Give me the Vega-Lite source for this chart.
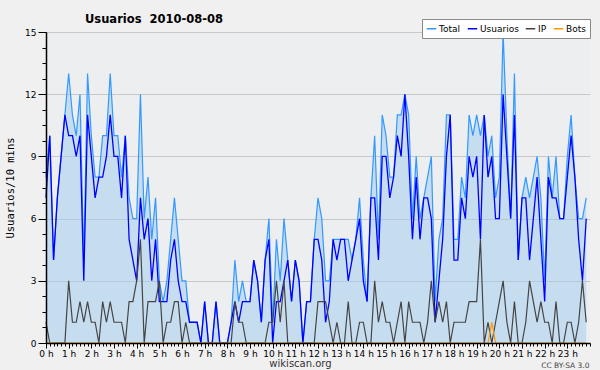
{
  "$schema": "https://vega.github.io/schema/vega-lite/v6.json",
  "autosize": "none",
  "width": 544,
  "height": 311,
  "padding": {"left": 46, "top": 32, "right": 10, "bottom": 27},
  "background": "#f0f0f0",
  "title": {
    "text": "Usuarios\u00a0 2010-08-08",
    "anchor": "start",
    "frame": "group",
    "dx": 39,
    "offset": -16,
    "baseline": "alphabetic",
    "font": "DejaVu Sans",
    "fontSize": 11.5,
    "fontWeight": "bold",
    "color": "#000000"
  },
  "config": {
    "view": {"fill": "#edeef0", "stroke": null},
    "axis": {
      "labelFont": "DejaVu Sans",
      "titleFont": "DejaVu Sans",
      "domainColor": "#000000",
      "tickColor": "#000000",
      "labelColor": "#000000",
      "titleColor": "#000000",
      "titleFontWeight": "normal"
    }
  },
  "data": {
    "values": [
      {"minuto": 0, "total": 8, "usuarios": 7, "ip": 1, "bots": 0},
      {"minuto": 10, "total": 10, "usuarios": 10, "ip": 0, "bots": 0},
      {"minuto": 20, "total": 4, "usuarios": 4, "ip": 0, "bots": 0},
      {"minuto": 30, "total": 7, "usuarios": 7, "ip": 0, "bots": 0},
      {"minuto": 40, "total": 9, "usuarios": 9, "ip": 0, "bots": 0},
      {"minuto": 50, "total": 11, "usuarios": 11, "ip": 0, "bots": 0},
      {"minuto": 60, "total": 13, "usuarios": 10, "ip": 3, "bots": 0},
      {"minuto": 70, "total": 11, "usuarios": 10, "ip": 1, "bots": 0},
      {"minuto": 80, "total": 10, "usuarios": 9, "ip": 1, "bots": 0},
      {"minuto": 90, "total": 12, "usuarios": 10, "ip": 2, "bots": 0},
      {"minuto": 100, "total": 4, "usuarios": 3, "ip": 1, "bots": 0},
      {"minuto": 110, "total": 13, "usuarios": 11, "ip": 2, "bots": 0},
      {"minuto": 120, "total": 10, "usuarios": 9, "ip": 1, "bots": 0},
      {"minuto": 130, "total": 8, "usuarios": 7, "ip": 1, "bots": 0},
      {"minuto": 140, "total": 8, "usuarios": 8, "ip": 0, "bots": 0},
      {"minuto": 150, "total": 10, "usuarios": 8, "ip": 2, "bots": 0},
      {"minuto": 160, "total": 10, "usuarios": 9, "ip": 1, "bots": 0},
      {"minuto": 170, "total": 13, "usuarios": 11, "ip": 2, "bots": 0},
      {"minuto": 180, "total": 10, "usuarios": 9, "ip": 1, "bots": 0},
      {"minuto": 190, "total": 10, "usuarios": 9, "ip": 1, "bots": 0},
      {"minuto": 200, "total": 8, "usuarios": 7, "ip": 1, "bots": 0},
      {"minuto": 210, "total": 10, "usuarios": 10, "ip": 0, "bots": 0},
      {"minuto": 220, "total": 7, "usuarios": 5, "ip": 2, "bots": 0},
      {"minuto": 230, "total": 6, "usuarios": 4, "ip": 2, "bots": 0},
      {"minuto": 240, "total": 6, "usuarios": 3, "ip": 3, "bots": 0},
      {"minuto": 250, "total": 12, "usuarios": 7, "ip": 5, "bots": 0},
      {"minuto": 260, "total": 6, "usuarios": 5, "ip": 0, "bots": 0},
      {"minuto": 270, "total": 8, "usuarios": 6, "ip": 2, "bots": 0},
      {"minuto": 280, "total": 5, "usuarios": 3, "ip": 2, "bots": 0},
      {"minuto": 290, "total": 7, "usuarios": 5, "ip": 2, "bots": 0},
      {"minuto": 300, "total": 3, "usuarios": 2, "ip": 3, "bots": 0},
      {"minuto": 310, "total": 2, "usuarios": 2, "ip": 0, "bots": 0},
      {"minuto": 320, "total": 3, "usuarios": 2, "ip": 1, "bots": 0},
      {"minuto": 330, "total": 5, "usuarios": 4, "ip": 1, "bots": 0},
      {"minuto": 340, "total": 7, "usuarios": 5, "ip": 2, "bots": 0},
      {"minuto": 350, "total": 5, "usuarios": 3, "ip": 2, "bots": 0},
      {"minuto": 360, "total": 3, "usuarios": 2, "ip": 0, "bots": 0},
      {"minuto": 370, "total": 3, "usuarios": 2, "ip": 1, "bots": 0},
      {"minuto": 380, "total": 1, "usuarios": 1, "ip": 0, "bots": 0},
      {"minuto": 390, "total": 1, "usuarios": 1, "ip": 0, "bots": 0},
      {"minuto": 400, "total": 1, "usuarios": 1, "ip": 0, "bots": 0},
      {"minuto": 410, "total": 0, "usuarios": 0, "ip": 0, "bots": 0},
      {"minuto": 420, "total": 2, "usuarios": 2, "ip": 0, "bots": 0},
      {"minuto": 430, "total": 0, "usuarios": 0, "ip": 0, "bots": 0},
      {"minuto": 440, "total": 0, "usuarios": 0, "ip": 0, "bots": 0},
      {"minuto": 450, "total": 2, "usuarios": 2, "ip": 0, "bots": 0},
      {"minuto": 460, "total": 0, "usuarios": 0, "ip": 0, "bots": 0},
      {"minuto": 470, "total": 0, "usuarios": 0, "ip": 0, "bots": 0},
      {"minuto": 480, "total": 0, "usuarios": 0, "ip": 0, "bots": 0},
      {"minuto": 490, "total": 1, "usuarios": 1, "ip": 0, "bots": 0},
      {"minuto": 500, "total": 4, "usuarios": 2, "ip": 2, "bots": 0},
      {"minuto": 510, "total": 2, "usuarios": 1, "ip": 1, "bots": 0},
      {"minuto": 520, "total": 3, "usuarios": 2, "ip": 1, "bots": 0},
      {"minuto": 530, "total": 2, "usuarios": 2, "ip": 0, "bots": 0},
      {"minuto": 540, "total": 2, "usuarios": 2, "ip": 0, "bots": 0},
      {"minuto": 550, "total": 4, "usuarios": 4, "ip": 0, "bots": 0},
      {"minuto": 560, "total": 3, "usuarios": 3, "ip": 0, "bots": 0},
      {"minuto": 570, "total": 1, "usuarios": 1, "ip": 0, "bots": 0},
      {"minuto": 580, "total": 4, "usuarios": 4, "ip": 0, "bots": 0},
      {"minuto": 590, "total": 6, "usuarios": 5, "ip": 1, "bots": 0},
      {"minuto": 600, "total": 1, "usuarios": 0, "ip": 1, "bots": 0},
      {"minuto": 610, "total": 5, "usuarios": 2, "ip": 3, "bots": 0},
      {"minuto": 620, "total": 3, "usuarios": 2, "ip": 1, "bots": 0},
      {"minuto": 630, "total": 6, "usuarios": 3, "ip": 3, "bots": 0},
      {"minuto": 640, "total": 4, "usuarios": 4, "ip": 0, "bots": 0},
      {"minuto": 650, "total": 2, "usuarios": 2, "ip": 0, "bots": 0},
      {"minuto": 660, "total": 4, "usuarios": 4, "ip": 0, "bots": 0},
      {"minuto": 670, "total": 3, "usuarios": 3, "ip": 0, "bots": 0},
      {"minuto": 680, "total": 0, "usuarios": 0, "ip": 0, "bots": 0},
      {"minuto": 690, "total": 2, "usuarios": 2, "ip": 0, "bots": 0},
      {"minuto": 700, "total": 2, "usuarios": 2, "ip": 0, "bots": 0},
      {"minuto": 710, "total": 5, "usuarios": 5, "ip": 0, "bots": 0},
      {"minuto": 720, "total": 7, "usuarios": 5, "ip": 2, "bots": 0},
      {"minuto": 730, "total": 6, "usuarios": 4, "ip": 2, "bots": 0},
      {"minuto": 740, "total": 3, "usuarios": 1, "ip": 2, "bots": 0},
      {"minuto": 750, "total": 3, "usuarios": 2, "ip": 1, "bots": 0},
      {"minuto": 760, "total": 5, "usuarios": 5, "ip": 0, "bots": 0},
      {"minuto": 770, "total": 5, "usuarios": 4, "ip": 1, "bots": 0},
      {"minuto": 780, "total": 5, "usuarios": 5, "ip": 0, "bots": 0},
      {"minuto": 790, "total": 5, "usuarios": 5, "ip": 0, "bots": 0},
      {"minuto": 800, "total": 5, "usuarios": 3, "ip": 2, "bots": 0},
      {"minuto": 810, "total": 4, "usuarios": 4, "ip": 0, "bots": 0},
      {"minuto": 820, "total": 5, "usuarios": 5, "ip": 0, "bots": 0},
      {"minuto": 830, "total": 7, "usuarios": 6, "ip": 1, "bots": 0},
      {"minuto": 840, "total": 4, "usuarios": 3, "ip": 1, "bots": 0},
      {"minuto": 850, "total": 2, "usuarios": 2, "ip": 0, "bots": 0},
      {"minuto": 860, "total": 7, "usuarios": 7, "ip": 0, "bots": 0},
      {"minuto": 870, "total": 10, "usuarios": 7, "ip": 3, "bots": 0},
      {"minuto": 880, "total": 5, "usuarios": 4, "ip": 1, "bots": 0},
      {"minuto": 890, "total": 11, "usuarios": 9, "ip": 2, "bots": 0},
      {"minuto": 900, "total": 10, "usuarios": 9, "ip": 1, "bots": 0},
      {"minuto": 910, "total": 8, "usuarios": 7, "ip": 1, "bots": 0},
      {"minuto": 920, "total": 8, "usuarios": 8, "ip": 0, "bots": 0},
      {"minuto": 930, "total": 11, "usuarios": 10, "ip": 1, "bots": 0},
      {"minuto": 940, "total": 11, "usuarios": 9, "ip": 2, "bots": 0},
      {"minuto": 950, "total": 12, "usuarios": 12, "ip": 0, "bots": 0},
      {"minuto": 960, "total": 11, "usuarios": 9, "ip": 2, "bots": 0},
      {"minuto": 970, "total": 6, "usuarios": 5, "ip": 1, "bots": 0},
      {"minuto": 980, "total": 9, "usuarios": 8, "ip": 1, "bots": 0},
      {"minuto": 990, "total": 6, "usuarios": 5, "ip": 1, "bots": 0},
      {"minuto": 1000, "total": 7, "usuarios": 7, "ip": 0, "bots": 0},
      {"minuto": 1010, "total": 8, "usuarios": 7, "ip": 1, "bots": 0},
      {"minuto": 1020, "total": 9, "usuarios": 6, "ip": 3, "bots": 0},
      {"minuto": 1030, "total": 2, "usuarios": 1, "ip": 1, "bots": 0},
      {"minuto": 1040, "total": 5, "usuarios": 3, "ip": 2, "bots": 0},
      {"minuto": 1050, "total": 6, "usuarios": 5, "ip": 1, "bots": 0},
      {"minuto": 1060, "total": 11, "usuarios": 9, "ip": 2, "bots": 0},
      {"minuto": 1070, "total": 11, "usuarios": 11, "ip": 0, "bots": 0},
      {"minuto": 1080, "total": 5, "usuarios": 4, "ip": 1, "bots": 0},
      {"minuto": 1090, "total": 5, "usuarios": 4, "ip": 1, "bots": 0},
      {"minuto": 1100, "total": 8, "usuarios": 7, "ip": 1, "bots": 0},
      {"minuto": 1110, "total": 7, "usuarios": 6, "ip": 1, "bots": 0},
      {"minuto": 1120, "total": 11, "usuarios": 9, "ip": 2, "bots": 0},
      {"minuto": 1130, "total": 10, "usuarios": 8, "ip": 2, "bots": 0},
      {"minuto": 1140, "total": 11, "usuarios": 9, "ip": 2, "bots": 0},
      {"minuto": 1150, "total": 10, "usuarios": 5, "ip": 5, "bots": 0},
      {"minuto": 1160, "total": 11, "usuarios": 11, "ip": 0, "bots": 0},
      {"minuto": 1170, "total": 9, "usuarios": 8, "ip": 1, "bots": 0},
      {"minuto": 1180, "total": 10, "usuarios": 9, "ip": 0, "bots": 1},
      {"minuto": 1190, "total": 7, "usuarios": 6, "ip": 1, "bots": 0},
      {"minuto": 1200, "total": 8, "usuarios": 6, "ip": 2, "bots": 0},
      {"minuto": 1210, "total": 15, "usuarios": 12, "ip": 3, "bots": 0},
      {"minuto": 1220, "total": 10, "usuarios": 9, "ip": 1, "bots": 0},
      {"minuto": 1230, "total": 6, "usuarios": 6, "ip": 0, "bots": 0},
      {"minuto": 1240, "total": 13, "usuarios": 11, "ip": 2, "bots": 0},
      {"minuto": 1250, "total": 4, "usuarios": 4, "ip": 0, "bots": 0},
      {"minuto": 1260, "total": 7, "usuarios": 7, "ip": 0, "bots": 0},
      {"minuto": 1270, "total": 8, "usuarios": 7, "ip": 1, "bots": 0},
      {"minuto": 1280, "total": 7, "usuarios": 4, "ip": 3, "bots": 0},
      {"minuto": 1290, "total": 8, "usuarios": 6, "ip": 2, "bots": 0},
      {"minuto": 1300, "total": 9, "usuarios": 8, "ip": 1, "bots": 0},
      {"minuto": 1310, "total": 7, "usuarios": 5, "ip": 2, "bots": 0},
      {"minuto": 1320, "total": 3, "usuarios": 2, "ip": 1, "bots": 0},
      {"minuto": 1330, "total": 9, "usuarios": 8, "ip": 1, "bots": 0},
      {"minuto": 1340, "total": 7, "usuarios": 7, "ip": 0, "bots": 0},
      {"minuto": 1350, "total": 9, "usuarios": 7, "ip": 2, "bots": 0},
      {"minuto": 1360, "total": 6, "usuarios": 6, "ip": 0, "bots": 0},
      {"minuto": 1370, "total": 6, "usuarios": 6, "ip": 0, "bots": 0},
      {"minuto": 1380, "total": 9, "usuarios": 8, "ip": 1, "bots": 0},
      {"minuto": 1390, "total": 11, "usuarios": 10, "ip": 1, "bots": 0},
      {"minuto": 1400, "total": 8, "usuarios": 8, "ip": 0, "bots": 0},
      {"minuto": 1410, "total": 6, "usuarios": 5, "ip": 1, "bots": 0},
      {"minuto": 1420, "total": 6, "usuarios": 3, "ip": 3, "bots": 0},
      {"minuto": 1430, "total": 7, "usuarios": 6, "ip": 1, "bots": 0}
    ]
  },
  "resolve": {"axis": {"x": "independent", "y": "independent"}},
  "layer": [
    {
      "mark": {"type": "area", "fill": "#9fccf0", "fillOpacity": 0.5, "stroke": null},
      "encoding": {
        "x": {
          "field": "minuto", "type": "quantitative",
          "scale": {"domain": [0, 1440], "nice": false, "zero": false},
          "axis": {
            "orient": "bottom",
            "values": [0, 60, 120, 180, 240, 300, 360, 420, 480, 540, 600, 660, 720, 780, 840, 900, 960, 1020, 1080, 1140, 1200, 1260, 1320, 1380],
            "labelExpr": "datum.value / 60 + ' h'",
            "labelFlush": false,
            "labelOverlap": false,
            "labelFontSize": 9,
            "labelPadding": 1,
            "tickSize": 5,
            "grid": false,
            "domain": false,
            "title": "wikiscan.org",
            "titleFontSize": 10,
            "titleColor": "#333333",
            "titleX": 254,
            "titleY": 23,
            "titleAlign": "center",
            "titleBaseline": "alphabetic",
            "zindex": 0
          }
        },
        "y": {
          "field": "total", "type": "quantitative",
          "scale": {"domain": [0, 15], "nice": false},
          "axis": {
            "orient": "left",
            "values": [0, 3, 6, 9, 12, 15],
            "grid": true,
            "gridColor": "#c8c8c8",
            "gridWidth": 1,
            "tickSize": 8,
            "labelFontSize": 9,
            "labelPadding": 2,
            "labelOverlap": false,
            "domain": false,
            "title": "Usuarios/10 mins",
            "titleFont": "DejaVu Sans Mono",
            "titleFontSize": 10.5,
            "titlePadding": 9,
            "zindex": 0
          }
        }
      }
    },
    {
      "mark": {"type": "line", "strokeWidth": 1.2},
      "encoding": {
        "x": {"field": "minuto", "type": "quantitative", "axis": null},
        "y": {"field": "total", "type": "quantitative", "axis": null},
        "color": {
          "datum": "Total",
          "type": "nominal",
          "scale": {
            "domain": ["Total", "Usuarios", "IP", "Bots"],
            "range": ["#3399ff", "#0000ff", "#444444", "#ff9900"]
          },
          "legend": {
            "orient": "none",
            "legendX": 376,
            "legendY": -13,
            "direction": "horizontal",
            "columns": 4,
            "title": null,
            "labelFont": "DejaVu Sans",
            "labelFontSize": 9,
            "labelColor": "#000000",
            "labelOffset": 2,
            "symbolType": "stroke",
            "symbolSize": 90,
            "symbolStrokeWidth": 1.5,
            "columnPadding": 3,
            "padding": 4,
            "strokeColor": "#888888",
            "fillColor": "#ffffff"
          }
        }
      }
    },
    {
      "mark": {"type": "line", "strokeWidth": 1.3},
      "encoding": {
        "x": {"field": "minuto", "type": "quantitative", "axis": null},
        "y": {"field": "usuarios", "type": "quantitative", "axis": null},
        "color": {"datum": "Usuarios", "type": "nominal"}
      }
    },
    {
      "mark": {"type": "line", "strokeWidth": 1.2},
      "encoding": {
        "x": {"field": "minuto", "type": "quantitative", "axis": null},
        "y": {"field": "ip", "type": "quantitative", "axis": null},
        "color": {"datum": "IP", "type": "nominal"}
      }
    },
    {
      "mark": {"type": "line", "strokeWidth": 1.2},
      "encoding": {
        "x": {
          "field": "minuto", "type": "quantitative",
          "axis": {
            "orient": "bottom",
            "tickCount": 144,
            "labels": false,
            "grid": false,
            "domain": true,
            "domainWidth": 1.5,
            "tickSize": 3,
            "title": "CC BY-SA 3.0",
            "titleFontSize": 7.5,
            "titleColor": "#444444",
            "titleX": 543,
            "titleY": 24,
            "titleAlign": "right",
            "titleBaseline": "alphabetic",
            "zindex": 1
          }
        },
        "y": {
          "field": "bots", "type": "quantitative",
          "axis": {
            "orient": "left",
            "values": [0, 0.75, 1.5, 2.25, 3, 3.75, 4.5, 5.25, 6, 6.75, 7.5, 8.25, 9, 9.75, 10.5, 11.25, 12, 12.75, 13.5, 14.25, 15],
            "labels": false,
            "grid": false,
            "domain": true,
            "domainWidth": 1.5,
            "tickSize": 4,
            "title": null,
            "zindex": 1
          }
        },
        "color": {"datum": "Bots", "type": "nominal"}
      }
    }
  ]
}
